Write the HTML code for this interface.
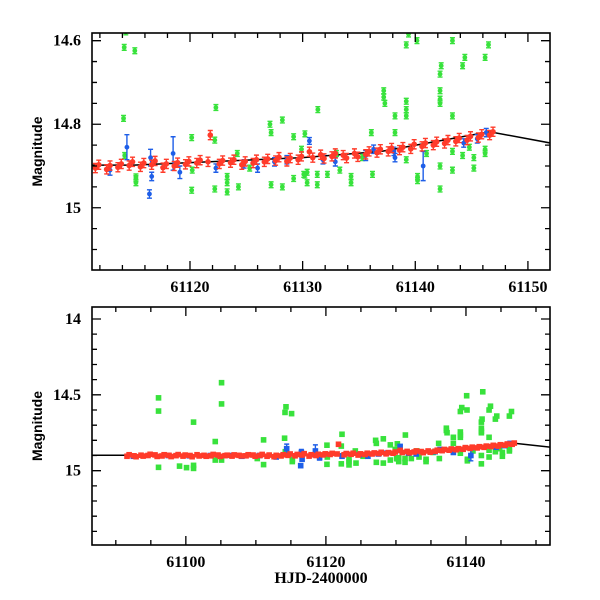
<!DOCTYPE html>
<html><head><meta charset="utf-8"><style>
html,body{margin:0;padding:0;background:#fff;}
svg{display:block;}
</style></head><body>
<svg id="chart" width="600" height="600" viewBox="0 0 600 600" xmlns="http://www.w3.org/2000/svg"></svg>
<script>
// ---- data ----
const redT = [61091.6,61091.9,61092.6,61092.9,61093.6,61093.9,61094.6,61094.9,61095.6,61095.9,61096.6,61096.9,61097.6,61097.9,61098.6,61098.9,61099.6,61099.9,61100.6,61100.9,61101.6,61101.9,61102.6,61102.9,61103.6,61103.9,61104.6,61104.9,61105.6,61105.9,61106.6,61106.9,61107.6,61107.9,61108.6,61108.9,61109.6,61109.9,61110.6,61110.9,61111.6,61111.9,61112.6,61112.9,61113.6,61113.9,61114.6,61114.9,61115.6,61115.9,61116.6,61116.9,61117.6,61117.9,61118.6,61118.9,61119.6,61119.9,61120.6,61120.9,61121.6,61121.8,61122.6,61122.9,61123.6,61123.9,61124.6,61124.9,61125.6,61125.9,61126.6,61126.9,61127.6,61127.9,61128.6,61128.9,61129.6,61129.9,61130.6,61130.9,61131.6,61131.9,61132.6,61132.9,61133.6,61133.9,61134.6,61134.9,61135.6,61135.9,61136.6,61136.9,61137.6,61137.9,61138.6,61138.9,61139.6,61139.9,61140.6,61140.9,61141.6,61141.9,61142.6,61142.9,61143.6,61143.9,61144.6,61144.9,61145.6,61145.9,61146.6,61146.9];
const redMag = [14.905,14.895,14.902,14.908,14.898,14.904,14.900,14.892,14.896,14.906,14.903,14.895,14.899,14.907,14.901,14.894,14.904,14.897,14.900,14.908,14.895,14.903,14.899,14.905,14.902,14.893,14.897,14.906,14.901,14.898,14.904,14.896,14.899,14.903,14.902,14.895,14.897,14.905,14.900,14.893,14.905,14.897,14.908,14.899,14.903,14.895,14.899,14.890,14.902,14.893,14.897,14.888,14.904,14.895,14.900,14.892,14.896,14.889,14.893,14.886,14.890,14.826,14.895,14.887,14.892,14.885,14.897,14.889,14.893,14.885,14.890,14.883,14.887,14.879,14.889,14.881,14.885,14.877,14.866,14.880,14.873,14.882,14.877,14.870,14.874,14.881,14.870,14.878,14.872,14.865,14.868,14.860,14.865,14.857,14.862,14.855,14.859,14.848,14.853,14.845,14.850,14.842,14.846,14.838,14.841,14.833,14.838,14.829,14.832,14.824,14.826,14.818];
const redErr = 0.011;
const blueT = [61092.5,61097.5,61100.5,61103.5,61106.5,61108.0,61110.5,61112.9,61114.4,61116.4,61116.5,61116.6,61118.5,61119.1,61122.3,61124.8,61126.0,61127.5,61128.6,61130.6,61131.8,61132.9,61135.6,61136.3,61138.1,61138.2,61140.7,61144.3,61145.5,61146.3];
const blueMag = [14.905,14.900,14.902,14.900,14.900,14.905,14.900,14.910,14.855,14.967,14.880,14.925,14.870,14.915,14.905,14.895,14.905,14.890,14.885,14.840,14.885,14.890,14.875,14.860,14.865,14.880,14.900,14.845,14.835,14.820];
const blueErr = [0.01,0.01,0.01,0.01,0.01,0.01,0.01,0.012,0.03,0.01,0.02,0.01,0.04,0.015,0.01,0.01,0.01,0.01,0.01,0.008,0.01,0.01,0.012,0.01,0.01,0.01,0.035,0.01,0.01,0.01];
const greenT = [61096.1,61096.1,61096.1,61099.1,61100.1,61101.1,61101.1,61101.1,61104.2,61104.2,61105.1,61105.1,61105.1,61110.2,61111.1,61111.1,61114.16,61115.1,61114.3,61114.1,61114.2,61115.2,61115.2,61115.2,61120.15,61120.15,61120.2,61122.3,61122.2,61122.2,61123.3,61123.3,61123.3,61124.3,61124.2,61125.3,61127.1,61127.2,61127.2,61128.2,61128.2,61129.2,61129.2,61130.2,61130.2,61131.35,61131.3,61131.3,61130.1,61130.4,61130.4,61132.2,61133.3,61134.3,61134.3,61136.2,61136.1,61137.2,61137.2,61137.3,61138.2,61138.2,61139.2,61139.2,61139.2,61139.2,61139.2,61140.15,61140.2,61140.2,61142.2,61142.2,61142.2,61142.2,61142.2,61142.2,61143.3,61143.3,61143.3,61143.3,61144.2,61144.2,61145.2,61145.2,61146.2,61146.2,61146.2,61129.9,61133.0,61135.3,61141.0,61144.8,61142.4,61140.1,61139.4,61143.5,61144.4,61146.5,61142.3];
const greenMag = [14.520,14.607,14.978,14.970,14.980,14.985,14.965,14.680,14.808,14.930,14.420,14.560,14.930,14.920,14.797,14.960,14.616,14.624,14.579,14.786,14.875,14.926,14.940,14.930,14.832,14.958,14.910,14.760,14.838,14.955,14.962,14.940,14.925,14.950,14.870,14.905,14.800,14.820,14.945,14.790,14.950,14.830,14.930,14.922,14.823,14.765,14.945,14.920,14.920,14.940,14.915,14.920,14.910,14.925,14.940,14.920,14.820,14.720,14.735,14.750,14.780,14.820,14.610,14.745,14.765,14.780,14.885,14.600,14.925,14.935,14.680,14.720,14.740,14.750,14.955,14.900,14.600,14.780,14.865,14.910,14.660,14.875,14.880,14.905,14.640,14.860,14.870,14.860,14.870,14.880,14.870,14.855,14.480,14.506,14.584,14.575,14.640,14.610,14.660];
const greenErr = 0.007;
const fitT = [61080, 61115, 61130, 61137, 61146.6, 61160];
const fitMag = [14.898, 14.898, 14.880, 14.865, 14.818, 14.885];
const topXTicks = [61120, 61130, 61140, 61150];
const topYTicks = [14.6, 14.8, 15];
const botXTicks = [61100, 61120, 61140];
const botYTicks = [14, 14.5, 15];

const NS = "http://www.w3.org/2000/svg";
const svg = document.getElementById('chart');
function mk(tag, attrs, parent){ const e=document.createElementNS(NS,tag); for(const k in attrs) e.setAttribute(k,attrs[k]); (parent||svg).appendChild(e); return e; }

function panel(cfg){
  const {id,L,R,T,B,x0,x1,y0,y1} = cfg;
  const X = t => L + (t-x0)/(x1-x0)*(R-L);
  const Y = m => T + (m-y0)/(y1-y0)*(B-T);
  const g = mk('g',{});
  
  
  const clip = mk('clipPath',{id:id+'-clip'},g);
  mk('rect',{x:L,y:T,width:R-L,height:B-T},clip);
  const plot = mk('g',{'clip-path':'url(#'+id+'-clip)'},g);
  
  

  const fl = mk('polyline',{points:fitT.map((t,i)=>X(t)+','+Y(fitMag[i])).join(' '),fill:'none',stroke:'#000','stroke-width':1.5},plot);
  
  

  function series(ts, ms, errs, color, name, shape, size, showErr){
    const sg = mk('g',{},plot);
    
    
    for(let i=0;i<ts.length;i++){
      const e = Array.isArray(errs)?errs[i]:errs;
      const x=X(ts[i]), y=Y(ms[i]), ya=Y(ms[i]-e), yb=Y(ms[i]+e);
      if(showErr){
        const eb = mk('path',{d:`M${x},${ya}V${yb}M${x-2.5},${ya}h5M${x-2.5},${yb}h5`,stroke:color,'stroke-width':1.4,fill:'none'},sg);
        
        
      }
      let p;
      if(shape==='c') p = mk('circle',{cx:x,cy:y,r:size,fill:color},sg);
      else p = mk('rect',{x:x-size,y:y-size,width:2*size,height:2*size,fill:color},sg);
      
      
    }
  }
  series(greenT, greenMag, greenErr, '#38e23c', 'green', cfg.shape, cfg.gs, cfg.errs);
  series(blueT, blueMag, blueErr, '#1e5ee8', 'blue', cfg.shape, cfg.bs, true);
  series(redT, redMag, redErr, '#ff3b2a', 'red', cfg.shape, cfg.rs, cfg.errs);

  const fr = mk('rect',{x:L,y:T,width:R-L,height:B-T,fill:'none',stroke:'#000','stroke-width':1.6},g);
  
  
  let d='';
  for(let v=Math.ceil(x0/cfg.xm)*cfg.xm; v<=x1; v+=cfg.xm){
    const x=X(v); const maj = Math.abs(v/cfg.xM-Math.round(v/cfg.xM))<1e-6; const len=maj?9:5;
    d+=`M${x},${B}v${-len}M${x},${T}v${len}`;
  }
  for(let k=Math.ceil(y0/cfg.ym-1e-6); k*cfg.ym<=y1+1e-9; k++){
    const v=k*cfg.ym; const y=Y(v); const maj = Math.abs(v/cfg.yM-Math.round(v/cfg.yM))<1e-6; const len=maj?9:5;
    d+=`M${L},${y}h${len}M${R},${y}h${-len}`;
  }
  const tk = mk('path',{d:d,stroke:'#000','stroke-width':1.3,fill:'none'},g);
  
  
  cfg.xt.forEach(v=>{
    const t = mk('text',{x:X(v),y:B+22,'text-anchor':'middle','font-family':'Liberation Serif, serif','font-size':16,'font-weight':'bold'},g);
    t.textContent = String(v);
    
    
  });
  cfg.yt.forEach(v=>{
    const t = mk('text',{x:L-11,y:Y(v)+5,'text-anchor':'end','font-family':'Liberation Serif, serif','font-size':16,'font-weight':'bold'},g);
    t.textContent = String(v);
    
    
  });
  const yl = mk('text',{x:0,y:0,transform:`translate(42,${(T+B)/2}) rotate(-90)`,'text-anchor':'middle','font-family':'Liberation Sans, sans-serif','font-size':14,'font-weight':'bold'},g);
  yl.textContent='Magnitude';
  
  
  return {X,Y};
}

panel({id:'top',L:92,R:550,T:33,B:270,x0:61111.3,x1:61151.96,y0:14.5816,y1:15.149,
  xm:2,xM:10,ym:0.05,yM:0.2,xt:topXTicks,yt:topYTicks,errs:true,shape:'c',gs:2.4,bs:2.4,rs:2.8});
panel({id:'bottom',L:92,R:550,T:307,B:545,x0:61086.6,x1:61152.0,y0:13.921,y1:15.49,
  xm:5,xM:20,ym:0.1,yM:0.5,xt:botXTicks,yt:botYTicks,errs:false,shape:'s',gs:2.8,bs:2.8,rs:2.8});

const xl = mk('text',{x:321,y:583,'text-anchor':'middle','font-family':'Liberation Serif, serif','font-size':16,'font-weight':'bold'});
xl.textContent='HJD-2400000';


</script>
</body></html>
